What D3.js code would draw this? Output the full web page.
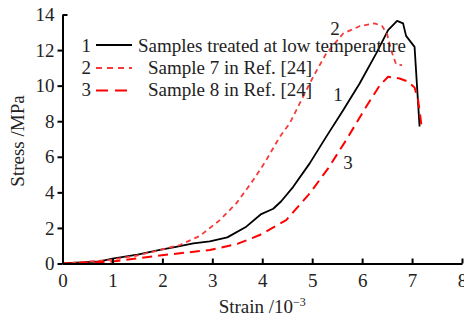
<!DOCTYPE html>
<html>
<head>
<meta charset="utf-8">
<script src="https://cdn.jsdelivr.net/npm/d3@7"></script>
<style>
  body { margin: 0; background: #fff; }
  svg text { font-family: "Liberation Serif", "Times New Roman", serif; fill: #222; }
</style>
</head>
<body>
<div id="chart"></div>
<script>
const W = 464, H = 320;

const xTicks = [0, 1, 2, 3, 4, 5, 6, 7, 8];
const yTicks = [0, 2, 4, 6, 8, 10, 12, 14];

// Curve 1: samples treated at low temperature
const strain1 = [0, 0.75, 1.0, 1.5, 1.95, 2.3, 2.62, 2.95, 3.3, 3.68, 3.98, 4.22, 4.38, 4.62, 4.95, 5.28, 5.62, 5.95, 6.28, 6.52, 6.7, 6.82, 6.88, 7.05, 7.15];
const stress1 = [0, 0.12, 0.28, 0.5, 0.76, 0.95, 1.13, 1.25, 1.47, 2.07, 2.78, 3.08, 3.5, 4.31, 5.63, 7.12, 8.62, 10.12, 11.8, 13.12, 13.64, 13.5, 12.8, 12.18, 7.7];

// Curve 2: sample 7 in Ref. [24]
const strain2 = [0, 0.95, 1.5, 1.95, 2.35, 2.75, 3.15, 3.48, 3.82, 4.08, 4.35, 4.55, 4.75, 5.02, 5.28, 5.62, 5.95, 6.25, 6.4, 6.5, 6.58, 6.68, 6.8];
const stress2 = [0, 0.2, 0.45, 0.76, 1.04, 1.55, 2.44, 3.38, 4.69, 5.81, 7.12, 7.88, 9.0, 10.5, 11.8, 12.93, 13.34, 13.5, 13.35, 12.9, 12.0, 11.2, 11.15];

// Curve 3: sample 8 in Ref. [24]
const strain3 = [0, 0.95, 1.95, 2.95, 3.5, 3.95, 4.48, 4.95, 5.32, 5.68, 6.08, 6.35, 6.52, 6.75, 6.9, 7.05, 7.12, 7.15, 7.2];
const stress3 = [0, 0.1, 0.45, 0.76, 1.1, 1.6, 2.44, 3.94, 5.35, 6.94, 8.81, 10.0, 10.5, 10.4, 10.25, 9.9, 9.2, 8.6, 7.5];

const legendNums = ['1', '2', '3'];
const legendLabels = ['Samples treated at low temperature', 'Sample 7 in Ref. [24]', 'Sample 8 in Ref. [24]'];

const series = [
  { xs: strain1, ys: stress1, color: '#000', width: 1.8, dash: null },
  { xs: strain2, ys: stress2, color: '#f53a3a', width: 1.8, dash: '5 4' },
  { xs: strain3, ys: stress3, color: '#ff0000', width: 2, dash: '10 6' },
];

const x = d3.scaleLinear().domain([0, 8]).range([62.5, 462]);
const y = d3.scaleLinear().domain([0, 14]).range([263.5, 14.5]);

const svg = d3.select('#chart').append('svg')
  .attr('width', W).attr('height', H);

// Curves
const line = d3.line().x(d => x(d[0])).y(d => y(d[1]));
series.forEach(s => {
  const pts = s.xs.map((v, i) => [v, s.ys[i]]);
  svg.append('path')
    .datum(pts)
    .attr('d', line)
    .attr('fill', 'none')
    .attr('stroke', s.color)
    .attr('stroke-width', s.width)
    .attr('stroke-linejoin', 'round')
    .attr('stroke-dasharray', s.dash);
});

// Axes
const xAxis = svg.append('g')
  .attr('transform', `translate(0,${y(0)})`)
  .call(d3.axisBottom(x).tickValues(xTicks).tickSize(-5).tickSizeOuter(0).tickPadding(10));

const yAxis = svg.append('g')
  .attr('transform', `translate(${x(0)},0)`)
  .call(d3.axisLeft(y).tickValues(yTicks).tickSize(5).tickSizeOuter(0).tickPadding(3));

[xAxis, yAxis].forEach(g => {
  g.select('.domain').attr('stroke', '#000').attr('stroke-width', 2);
  g.selectAll('.tick line').attr('stroke', '#000').attr('stroke-width', 2);
  g.selectAll('.tick text').attr('font-size', 19).attr('fill', '#222')
    .style('font-family', '"Liberation Serif", serif');
});
// top tick points inward
yAxis.selectAll('.tick').filter(d => d === 14).select('line').attr('x2', 5);

// Axis titles
const xTitle = svg.append('text')
  .attr('x', x(4)).attr('y', 313)
  .attr('text-anchor', 'middle')
  .attr('font-size', 19);
xTitle.append('tspan').text('Strain /10');
xTitle.append('tspan').attr('dy', -7).attr('font-size', 12).text('\u22123');

svg.append('text')
  .attr('transform', 'translate(24,141) rotate(-90)')
  .attr('text-anchor', 'middle')
  .attr('font-size', 19)
  .text('Stress /MPa');

// Legend
const legendRows = [
  { lineY: 45, baseY: 52, textX: 138 },
  { lineY: 68, baseY: 74, textX: 148 },
  { lineY: 90.5, baseY: 96, textX: 148 },
];
legendRows.forEach((r, i) => {
  svg.append('text')
    .attr('x', 91).attr('y', r.baseY)
    .attr('text-anchor', 'end')
    .attr('font-size', 19)
    .text(legendNums[i]);
  svg.append('line')
    .attr('x1', 96).attr('x2', 132)
    .attr('y1', r.lineY).attr('y2', r.lineY)
    .attr('stroke', series[i].color)
    .attr('stroke-width', series[i].width)
    .attr('stroke-dasharray', i === 1 ? '6 5' : i === 2 ? '12 7' : null);
  svg.append('text')
    .attr('x', r.textX).attr('y', r.baseY)
    .attr('font-size', 19)
    .text(legendLabels[i]);
});

// Curve number labels
const curveLabels = [
  { t: '2', x: 335, y: 35 },
  { t: '1', x: 338, y: 101 },
  { t: '3', x: 348, y: 169 },
];
curveLabels.forEach(c => {
  svg.append('text')
    .attr('x', c.x).attr('y', c.y)
    .attr('text-anchor', 'middle')
    .attr('font-size', 19)
    .text(c.t);
});
</script>
</body>
</html>
